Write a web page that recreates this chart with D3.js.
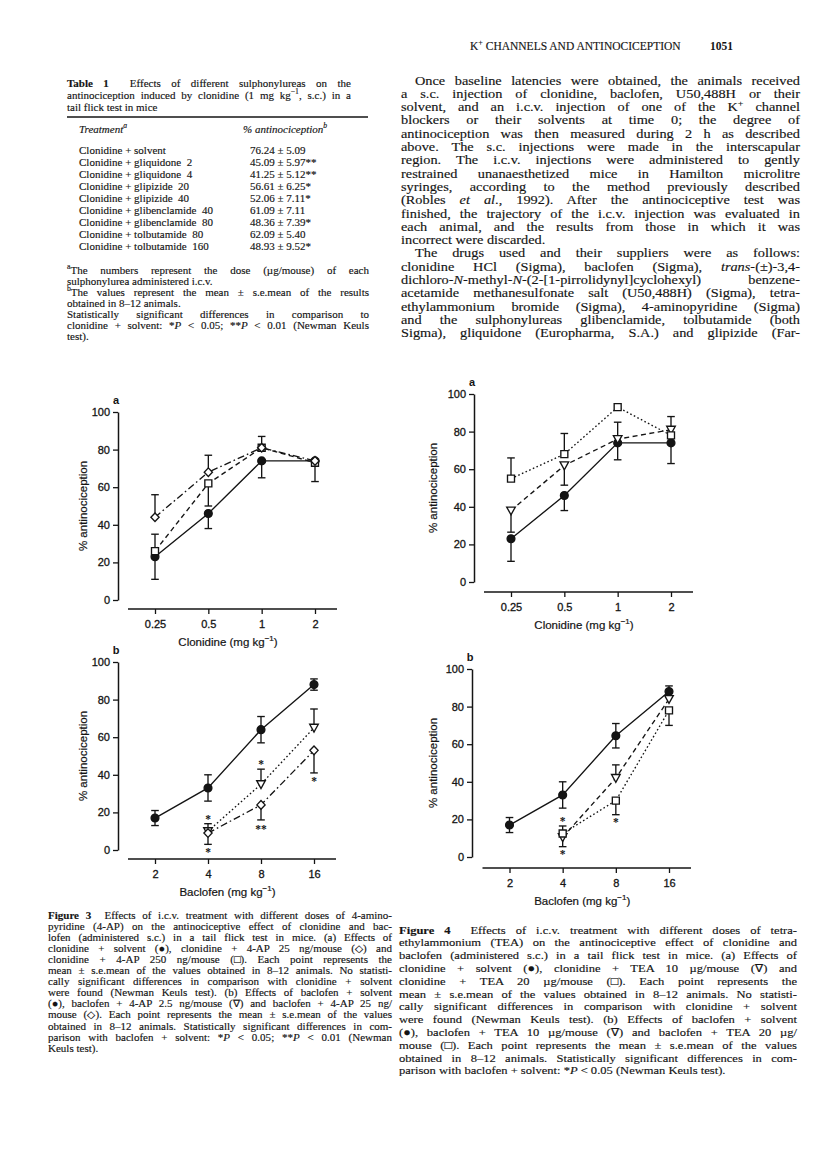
<!DOCTYPE html>
<html><head><meta charset="utf-8">
<script src="https://cdn.jsdelivr.net/npm/d3@7"></script>
<style>
html,body{margin:0;padding:0;background:#fff;}
svg{display:block;}
</style></head>
<body>
<svg id="page" width="816" height="1155"></svg>
<script>
// ================= DATA =================
const headerTitle = "K<sup>+</sup> CHANNELS AND ANTINOCICEPTION";
const pageNumber = "1051";

const tableCaption = [
  "<b>Table 1</b>  Effects of different sulphonylureas on the",
  "antinociception induced by clonidine (1 mg kg<sup>−1</sup>, s.c.) in a",
  "tail flick test in mice"
];
const tableHeader = ["<i>Treatment<sup>a</sup></i>", "<i>% antinociception<sup>b</sup></i>"];
const tableTreatments = [
  "Clonidine + solvent",
  "Clonidine + gliquidone  2",
  "Clonidine + gliquidone  4",
  "Clonidine + glipizide  20",
  "Clonidine + glipizide  40",
  "Clonidine + glibenclamide  40",
  "Clonidine + glibenclamide  80",
  "Clonidine + tolbutamide  80",
  "Clonidine + tolbutamide  160"
];
const tableValues = [
  "76.24 ± 5.09", "45.09 ± 5.97**", "41.25 ± 5.12**", "56.61 ± 6.25*", "52.06 ± 7.11*",
  "61.09 ± 7.11", "48.36 ± 7.39*", "62.09 ± 5.40", "48.93 ± 9.52*"
];
const tableFootnotes = [
  ["<sup>a</sup>The numbers represent the dose (µg/mouse) of each", true],
  ["sulphonylurea administered i.c.v.", false],
  ["<sup>b</sup>The values represent the mean ± s.e.mean of the results", true],
  ["obtained in 8–12 animals.", false],
  ["Statistically significant differences in comparison to", true],
  ["clonidine + solvent: *<i>P</i> < 0.05; **<i>P</i> < 0.01 (Newman Keuls", true],
  ["test).", false]
];

const bodyLines = [
  ["Once baseline latencies were obtained, the animals received", true, true],
  ["a s.c. injection of clonidine, baclofen, U50,488H or their", true, false],
  ["solvent, and an i.c.v. injection of one of the K<sup>+</sup> channel", true, false],
  ["blockers or their solvents at time 0; the degree of", true, false],
  ["antinociception was then measured during 2 h as described", true, false],
  ["above. The s.c. injections were made in the interscapular", true, false],
  ["region. The i.c.v. injections were administered to gently", true, false],
  ["restrained unanaesthetized mice in Hamilton microlitre", true, false],
  ["syringes, according to the method previously described", true, false],
  ["(Robles <i>et al</i>., 1992). After the antinociceptive test was", true, false],
  ["finished, the trajectory of the i.c.v. injection was evaluated in", true, false],
  ["each animal, and the results from those in which it was", true, false],
  ["incorrect were discarded.", false, false],
  ["The drugs used and their suppliers were as follows:", true, true],
  ["clonidine HCl (Sigma), baclofen (Sigma), <i>trans</i>-(±)-3,4-", true, false],
  ["dichloro-<i>N</i>-methyl-<i>N</i>-(2-[1-pirrolidynyl]cyclohexyl) benzene-", true, false],
  ["acetamide methanesulfonate salt (U50,488H) (Sigma), tetra-", true, false],
  ["ethylammonium bromide (Sigma), 4-aminopyridine (Sigma)", true, false],
  ["and the sulphonylureas glibenclamide, tolbutamide (both", true, false],
  ["Sigma), gliquidone (Europharma, S.A.) and glipizide (Far-", true, false]
];

const fig3Caption = [
  ["<b>Figure 3</b>  Effects of i.c.v. treatment with different doses of 4-amino-", true],
  ["pyridine (4-AP) on the antinociceptive effect of clonidine and bac-", true],
  ["lofen (administered s.c.) in a tail flick test in mice. (a) Effects of", true],
  ["clonidine + solvent (●), clonidine + 4-AP 25 ng/mouse (◇) and", true],
  ["clonidine + 4-AP 250 ng/mouse (□). Each point represents the", true],
  ["mean ± s.e.mean of the values obtained in 8–12 animals. No statisti-", true],
  ["cally significant differences in comparison with clonidine + solvent", true],
  ["were found (Newman Keuls test). (b) Effects of baclofen + solvent", true],
  ["(●), baclofen + 4-AP 2.5 ng/mouse (∇) and baclofen + 4-AP 25 ng/", true],
  ["mouse (◇). Each point represents the mean ± s.e.mean of the values", true],
  ["obtained in 8–12 animals. Statistically significant differences in com-", true],
  ["parison with baclofen + solvent: *<i>P</i> < 0.05; **<i>P</i> < 0.01 (Newman", true],
  ["Keuls test).", false]
];
const fig4Caption = [
  ["<b>Figure 4</b>  Effects of i.c.v. treatment with different doses of tetra-", true],
  ["ethylammonium (TEA) on the antinociceptive effect of clonidine and", true],
  ["baclofen (administered s.c.) in a tail flick test in mice. (a) Effects of", true],
  ["clonidine + solvent (●), clonidine + TEA 10 µg/mouse (∇) and", true],
  ["clonidine + TEA 20 µg/mouse (□). Each point represents the", true],
  ["mean ± s.e.mean of the values obtained in 8–12 animals. No statisti-", true],
  ["cally significant differences in comparison with clonidine + solvent", true],
  ["were found (Newman Keuls test). (b) Effects of baclofen + solvent", true],
  ["(●), baclofen + TEA 10 µg/mouse (∇) and baclofen + TEA 20 µg/", true],
  ["mouse (□). Each point represents the mean ± s.e.mean of the values", true],
  ["obtained in 8–12 animals. Statistically significant differences in com-", true],
  ["parison with baclofen + solvent: *<i>P</i> < 0.05 (Newman Keuls test).", false]
];

// ---- chart data ----
const yTicks = [0, 20, 40, 60, 80, 100];
const yTitle = "% antinociception";

const clonidineDoses = [0.25, 0.5, 1, 2];
const clonidineLabels = ["0.25", "0.5", "1", "2"];
const clonidineTitle = "Clonidine (mg kg<sup>−1</sup>)";
const baclofenDoses = [2, 4, 8, 16];
const baclofenLabels = ["2", "4", "8", "16"];
const baclofenTitle = "Baclofen (mg kg<sup>−1</sup>)";

// Figure 3a
const f3aSolvent      = [23, 46, 74, 74];
const f3aSolventUp    = [0, 0, 0, 0];
const f3aSolventDown  = [12, 8, 9, 11];
const f3a4AP25        = [44, 68, 81, 74];
const f3a4AP25Up      = [12, 9, 6, 0];
const f3a4AP25Down    = [0, 0, 0, 0];
const f3a4AP250       = [26, 62, 81, 73];
const f3a4AP250Up     = [9, 0, 0, 0];
const f3a4AP250Down   = [0, 12, 0, 0];

// Figure 3b
const f3bSolvent      = [17, 33, 64, 88];
const f3bSolventErr   = [4, 7, 7, 3];
const f3b4AP2_5       = [null, 10, 35, 65];
const f3b4AP2_5Up     = [0, 4, 8, 10];
const f3b4AP2_5Down   = [0, 0, 0, 0];
const f3b4AP25        = [null, 9, 24, 53];
const f3b4AP25Up      = [0, 0, 0, 0];
const f3b4AP25Down    = [0, 6, 8, 12];
const f3bStars = [[4, 17.5, "*"], [4, 0, "*"], [8, 47, "*"], [8, 12.5, "**"], [16, 38, "*"]];

// Figure 4a
const f4aSolvent      = [23, 46, 74, 74];
const f4aSolventUp    = [0, 0, 0, 0];
const f4aSolventDown  = [12, 8, 9, 11];
const f4aTEA10        = [38, 62, 76, 81];
const f4aTEA10Up      = [0, 0, 9, 7];
const f4aTEA10Down    = [11.5, 10.5, 0, 0];
const f4aTEA20        = [55, 68, 93, 78];
const f4aTEA20Up      = [11, 11, 0, 0];
const f4aTEA20Down    = [0, 0, 0, 0];

// Figure 4b
const f4bSolvent      = [17, 33, 64.5, 88];
const f4bSolventErr   = [4, 7, 6.5, 3];
const f4bTEA10        = [null, 10.5, 42, 84];
const f4bTEA10Up      = [0, 0, 7, 0];
const f4bTEA10Down    = [0, 5, 0, 0];
const f4bTEA20        = [null, 12.5, 30, 78];
const f4bTEA20Up      = [0, 4, 0, 0];
const f4bTEA20Down    = [0, 0, 7.5, 8];
const f4bStars = [[4, 20, "*"], [4, 2.5, "*"], [8, 19.5, "*"]];

// ================= RENDER =================
const SERIF = "'Liberation Serif','Times New Roman',Times,serif";
const SANS = "'Liberation Sans',Arial,Helvetica,sans-serif";
const INK = "#141414";
const TAG = /<\/?(?:i|b|sup)>/g;
const svg = d3.select("#page");
svg.append("rect").attr("width", 816).attr("height", 1155).attr("fill", "#fff");

function richText(parent, x, y, markup, o) {
  const fs = o.size, sx = o.sx || 1;
  const t = parent.append("text")
    .attr("transform", `translate(${x},${y}) scale(${sx},1)`)
    .attr("font-family", o.family || SERIF).attr("font-size", fs)
    .attr("fill", INK).style("white-space", "pre");
  if (o.stroke) t.attr("stroke", INK).attr("stroke-width", o.stroke);
  if (o.anchor) t.attr("text-anchor", o.anchor);
  if (o.weight) t.attr("font-weight", o.weight);
  const parts = markup.split(/(<\/?(?:i|b|sup)>)/);
  let it = false, bd = false, sup = false, dy = 0;
  parts.forEach(p => {
    if (p === "<i>") it = true;
    else if (p === "</i>") it = false;
    else if (p === "<b>") bd = true;
    else if (p === "</b>") bd = false;
    else if (p === "<sup>") { sup = true; dy -= fs * 0.4; }
    else if (p === "</sup>") { sup = false; dy += fs * 0.4; }
    else if (p.length) {
      const ts = t.append("tspan").text(p);
      if (it) ts.attr("font-style", "italic");
      if (bd) ts.attr("font-weight", "bold");
      if (sup) ts.attr("font-size", fs * 0.7);
      if (dy) { ts.attr("dy", dy); dy = 0; }
    }
  });
  if (o.width) {
    const target = o.width / sx;
    const nat = t.node().getComputedTextLength();
    const plain = markup.replace(TAG, "");
    const n = (plain.match(/ /g) || []).length;
    if (nat <= target && n > 0) {
      t.style("word-spacing", ((target - nat) / n).toFixed(2) + "px");
    } else if (nat > target) {
      t.attr("textLength", target.toFixed(2)).attr("lengthAdjust", "spacingAndGlyphs");
    }
  }
  return t;
}

// ---- layout (positions / styles) ----
const L = {
  header: { x: 470, y: 50, num: 733, size: 11.5 },
  table: { x0: 67, x1: 369, capRight: 351, capY: 86.5, capStep: 12, ruleX1: 368, ruleY: 117, headY: 132.5,
           colB: 243, valX: 250, rowX: 79, rowY: 153.5, rowStep: 12, footY: 273.5, footStep: 11.1, size: 11 },
  body: { x0: 401, x1: 800, y: 84.5, step: 13.3, size: 12.8, sx: 1.12, indent: 14 },
  cap3: { x0: 48, x1: 392, y: 918.5, step: 11.1, size: 10.4, sx: 1.06 },
  cap4: { x0: 399, x1: 797, y: 933.5, step: 12.8, size: 11.4, sx: 1.1 }
};

// header
const hdr = svg.append("g");
richText(hdr, L.header.x, L.header.y, headerTitle, { size: L.header.size, stroke: 0.15 });
richText(hdr, L.header.num, L.header.y, pageNumber, { size: L.header.size, weight: "bold", anchor: "end" });

// table
const T = L.table;
const tg = svg.append("g");
tableCaption.forEach((s, i) => {
  richText(tg, T.x0, T.capY + i * T.capStep, s,
    { size: T.size, stroke: 0.15, width: i < 2 ? T.capRight - T.x0 : null });
});
tg.append("line").attr("x1", T.x0).attr("x2", T.ruleX1)
  .attr("y1", T.ruleY).attr("y2", T.ruleY).attr("stroke", INK).attr("stroke-width", 1.3);
richText(tg, T.rowX, T.headY, tableHeader[0], { size: T.size, stroke: 0.15 });
richText(tg, T.colB, T.headY, tableHeader[1], { size: T.size, stroke: 0.15 });
tableTreatments.forEach((s, i) => {
  richText(tg, T.rowX, T.rowY + i * T.rowStep, s, { size: T.size, stroke: 0.15 });
  richText(tg, T.valX, T.rowY + i * T.rowStep, tableValues[i], { size: T.size, stroke: 0.15 });
});
tableFootnotes.forEach(([s, j], i) => {
  richText(tg, T.x0, T.footY + i * T.footStep, s,
    { size: T.size, stroke: 0.15, width: j ? T.x1 - T.x0 : null });
});

// right column body
const B = L.body;
const bg = svg.append("g");
bodyLines.forEach(([s, j, ind], i) => {
  const x = B.x0 + (ind ? B.indent : 0);
  richText(bg, x, B.y + i * B.step, s, { size: B.size, sx: B.sx, stroke: 0.15, width: j ? B.x1 - x : null });
});

// captions
const cg = svg.append("g");
fig3Caption.forEach(([s, j], i) => {
  const C = L.cap3;
  richText(cg, C.x0, C.y + i * C.step, s, { size: C.size, sx: C.sx, stroke: 0.15, width: j ? C.x1 - C.x0 : null });
});
fig4Caption.forEach(([s, j], i) => {
  const C = L.cap4;
  richText(cg, C.x0, C.y + i * C.step, s, { size: C.size, sx: C.sx, stroke: 0.15, width: j ? C.x1 - C.x0 : null });
});

// ---- charts ----
const DASH = { solid: null, dashed: "5,3.5", dotted: "1.6,2.4", dashdot: "7,3,1.6,3" };
function symbolPath(kind) {
  switch (kind) {
    case "circle": return "M3.9,0A3.9,3.9 0 1,1 -3.9,0A3.9,3.9 0 1,1 3.9,0Z";
    case "square": return "M-3.5,-3.5H3.5V3.5H-3.5Z";
    case "diamond": return "M0,-4.3L4.1,0L0,4.3L-4.1,0Z";
    case "triangle": return "M-4.3,-3.5H4.3L0,4.3Z";
  }
}

function drawPanel(cfg) {
  const g = svg.append("g");
  const x = d3.scaleLog().base(2).domain([cfg.doses[0], cfg.doses[cfg.doses.length - 1]]).range([cfg.xFirst, cfg.xLast]);
  const y = d3.scaleLinear().domain([0, 100]).range([cfg.y0, cfg.y100]);

  // y axis
  const ya = g.append("g").attr("transform", `translate(${cfg.axisX},0)`)
    .call(d3.axisLeft(y).tickValues(yTicks).tickSize(5).tickSizeOuter(0).tickPadding(3));
  ya.select(".domain").attr("stroke", INK).attr("stroke-width", 1.5);
  ya.selectAll(".tick line").attr("stroke", INK).attr("stroke-width", 1.3);
  ya.selectAll(".tick text").attr("font-family", SANS).attr("font-size", 11).attr("fill", INK)
    .attr("stroke", INK).attr("stroke-width", 0.3);

  // x axis
  const xa = g.append("g").attr("transform", `translate(0,${cfg.xAxisY})`)
    .call(d3.axisBottom(x).tickValues(cfg.doses).tickFormat((d, i) => cfg.labels[i]).tickSize(5).tickSizeOuter(0).tickPadding(6));
  xa.select(".domain").remove();
  xa.selectAll(".tick line").attr("stroke", INK).attr("stroke-width", 1.3);
  xa.selectAll(".tick text").attr("font-family", SANS).attr("font-size", 11).attr("fill", INK)
    .attr("stroke", INK).attr("stroke-width", 0.3);
  g.append("line").attr("x1", x(cfg.doses[0]) - 27).attr("x2", x(cfg.doses[cfg.doses.length - 1]) + 22)
    .attr("y1", cfg.xAxisY).attr("y2", cfg.xAxisY).attr("stroke", INK).attr("stroke-width", 1.5);

  // titles
  richText(g, (x(cfg.doses[0]) + x(cfg.doses[cfg.doses.length - 1])) / 2 - 7, cfg.xAxisY + 37, cfg.xTitle,
    { family: SANS, size: 11.5, anchor: "middle", stroke: 0.2 });
  g.append("text").attr("transform", `translate(${cfg.yTitleX},${(y(0) + y(100)) / 2}) rotate(-90)`)
    .attr("text-anchor", "middle").attr("font-family", SANS).attr("font-size", 11.5).attr("fill", INK)
    .attr("stroke", INK).attr("stroke-width", 0.2).text(yTitle);
  g.append("text").attr("x", cfg.axisX - 2).attr("y", y(100) - 8).attr("font-family", SANS)
    .attr("font-weight", "bold").attr("font-size", 11).attr("fill", INK).attr("text-anchor", "middle").text(cfg.label);

  const pts = s => cfg.doses.map((d, i) => ({ d, v: s.values[i], up: s.up[i], down: s.down[i] })).filter(p => p.v != null);

  // lines
  cfg.series.forEach(s => {
    g.append("path").datum(pts(s))
      .attr("d", d3.line().x(p => x(p.d)).y(p => y(p.v)))
      .attr("fill", "none").attr("stroke", INK).attr("stroke-width", 1.35)
      .attr("stroke-dasharray", DASH[s.style]);
  });
  // error bars
  cfg.series.forEach(s => {
    pts(s).forEach(p => {
      [[p.up, 1], [p.down, -1]].forEach(([e, sgn]) => {
        if (!e) return;
        const yy = y(p.v + sgn * e);
        g.append("line").attr("x1", x(p.d)).attr("x2", x(p.d)).attr("y1", y(p.v)).attr("y2", yy)
          .attr("stroke", INK).attr("stroke-width", 1.35);
        g.append("line").attr("x1", x(p.d) - 3.8).attr("x2", x(p.d) + 3.8).attr("y1", yy).attr("y2", yy)
          .attr("stroke", INK).attr("stroke-width", 1.35);
      });
    });
  });
  // symbols
  cfg.series.forEach(s => {
    g.selectAll(null).data(pts(s)).enter().append("path")
      .attr("transform", p => `translate(${x(p.d)},${y(p.v)})`)
      .attr("d", symbolPath(s.symbol))
      .attr("fill", s.symbol === "circle" ? INK : "#fff")
      .attr("stroke", INK).attr("stroke-width", 1.35);
  });
  // significance marks
  (cfg.stars || []).forEach(([d, v, t]) => {
    g.append("text").attr("x", x(d)).attr("y", y(v) + 6).attr("text-anchor", "middle")
      .attr("font-family", SERIF).attr("font-size", 11.5).attr("font-weight", "bold").attr("fill", INK).text(t);
  });
}

drawPanel({
  label: "a", doses: clonidineDoses, labels: clonidineLabels, xTitle: clonidineTitle,
  axisX: 118, y0: 600, y100: 412, xFirst: 155, xLast: 315, xAxisY: 609, yTitleX: 87,
  series: [
    { values: f3aSolvent, up: f3aSolventUp, down: f3aSolventDown, style: "solid", symbol: "circle" },
    { values: f3a4AP250, up: f3a4AP250Up, down: f3a4AP250Down, style: "dashed", symbol: "square" },
    { values: f3a4AP25, up: f3a4AP25Up, down: f3a4AP25Down, style: "dashdot", symbol: "diamond" }
  ]
});
drawPanel({
  label: "b", doses: baclofenDoses, labels: baclofenLabels, xTitle: baclofenTitle,
  axisX: 118, y0: 850, y100: 662, xFirst: 155, xLast: 314, xAxisY: 859, yTitleX: 87,
  series: [
    { values: f3bSolvent, up: f3bSolventErr, down: f3bSolventErr, style: "solid", symbol: "circle" },
    { values: f3b4AP2_5, up: f3b4AP2_5Up, down: f3b4AP2_5Down, style: "dotted", symbol: "triangle" },
    { values: f3b4AP25, up: f3b4AP25Up, down: f3b4AP25Down, style: "dashdot", symbol: "diamond" }
  ],
  stars: f3bStars
});
drawPanel({
  label: "a", doses: clonidineDoses, labels: clonidineLabels, xTitle: clonidineTitle,
  axisX: 474, y0: 582, y100: 394, xFirst: 511, xLast: 671, xAxisY: 592, yTitleX: 437,
  series: [
    { values: f4aSolvent, up: f4aSolventUp, down: f4aSolventDown, style: "solid", symbol: "circle" },
    { values: f4aTEA10, up: f4aTEA10Up, down: f4aTEA10Down, style: "dashed", symbol: "triangle" },
    { values: f4aTEA20, up: f4aTEA20Up, down: f4aTEA20Down, style: "dotted", symbol: "square" }
  ]
});
drawPanel({
  label: "b", doses: baclofenDoses, labels: baclofenLabels, xTitle: baclofenTitle,
  axisX: 472, y0: 857, y100: 669, xFirst: 509.5, xLast: 669, xAxisY: 868, yTitleX: 437,
  series: [
    { values: f4bSolvent, up: f4bSolventErr, down: f4bSolventErr, style: "solid", symbol: "circle" },
    { values: f4bTEA10, up: f4bTEA10Up, down: f4bTEA10Down, style: "dashed", symbol: "triangle" },
    { values: f4bTEA20, up: f4bTEA20Up, down: f4bTEA20Down, style: "dotted", symbol: "square" }
  ],
  stars: f4bStars
});
</script>
</body></html>
